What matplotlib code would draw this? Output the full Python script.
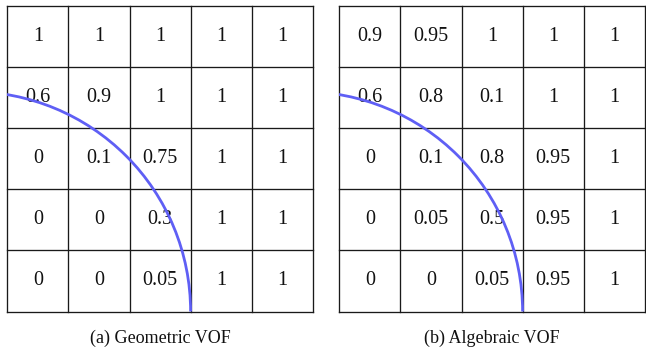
import numpy as np
import matplotlib
matplotlib.use("Agg")
import matplotlib.pyplot as plt
from matplotlib.patches import Arc

# cell values, rows listed from top to bottom
geometric_vof = [
    [1, 1, 1, 1, 1],
    [0.6, 0.9, 1, 1, 1],
    [0, 0.1, 0.75, 1, 1],
    [0, 0, 0.3, 1, 1],
    [0, 0, 0.05, 1, 1],
]
algebraic_vof = [
    [0.9, 0.95, 1, 1, 1],
    [0.6, 0.8, 0.1, 1, 1],
    [0, 0.1, 0.8, 0.95, 1],
    [0, 0.05, 0.5, 0.95, 1],
    [0, 0, 0.05, 0.95, 1],
]
captions = ["(a) Geometric VOF", "(b) Algebraic VOF"]

# interface circle (grid units, origin bottom-left)
circle_center = (-0.6, 0.0)
circle_radius = 3.6

W, H = 646, 349
fig = plt.figure(figsize=(W / 100, H / 100), dpi=100)

font = "Liberation Serif"
line_color = "#1a1a1a"
arc_color = "#5f5ff5"

lefts_px = [7.3, 339.3]
top_px, size_px = 6.0, 305.5

for left_px, values, cap in zip(lefts_px, [geometric_vof, algebraic_vof], captions):
    ax = fig.add_axes([left_px / W, (H - top_px - size_px) / H, size_px / W, size_px / H])
    n = len(values)
    ax.set_xlim(0, n)
    ax.set_ylim(0, n)
    ax.set_axis_off()
    for k in range(n + 1):
        ax.plot([k, k], [0, n], color=line_color, lw=0.95, solid_capstyle="projecting", clip_on=False)
        ax.plot([0, n], [k, k], color=line_color, lw=0.95, solid_capstyle="projecting", clip_on=False)
    for r, row in enumerate(values):
        for c, v in enumerate(row):
            ax.text(c + 0.5, n - r - 0.5, f"{v:g}", ha="center", va="center",
                    fontsize=14.5, family=font, color="#111111")
    arc = Arc(circle_center, 2 * circle_radius, 2 * circle_radius, theta1=0, theta2=90,
              color=arc_color, lw=2.0, zorder=5)
    arc.set_clip_on(True)
    ax.add_patch(arc)
    fig.text((left_px + size_px / 2) / W, (H - 338) / H, cap, ha="center", va="center",
             fontsize=13, family=font, color="#111111")

fig.savefig("out.png", dpi=100)
